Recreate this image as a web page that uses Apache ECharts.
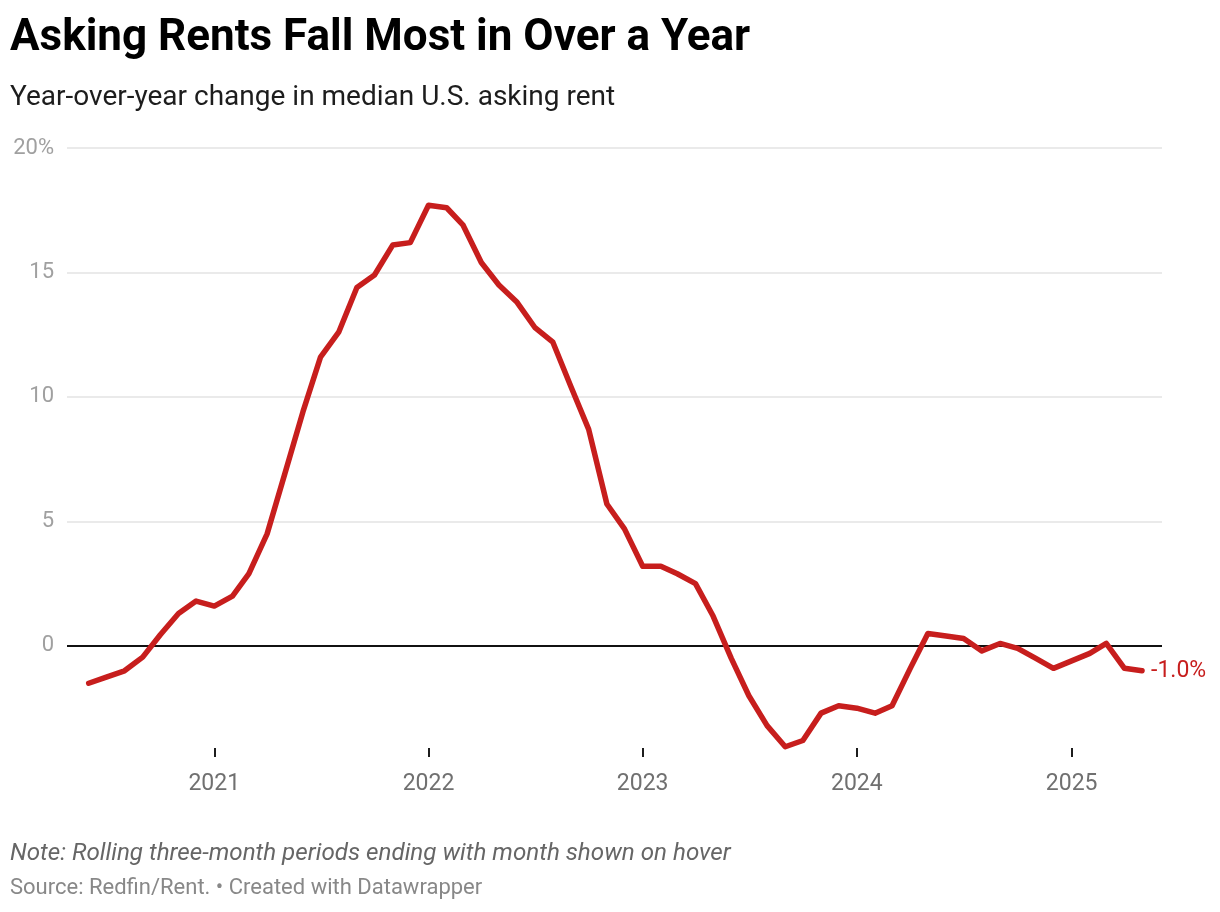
<!DOCTYPE html>
<html>
<head>
<meta charset="utf-8">
<script src="https://cdn.jsdelivr.net/npm/echarts@6/dist/echarts.min.js"></script>
<style>
html,body{margin:0;padding:0;background:#fff;}
#chart{width:1220px;height:912px;}
</style>
</head>
<body>
<div id="chart"></div>
<script>
// Month (first day) of each rolling three-month period
const months = [
  "2020-06","2020-07","2020-08","2020-09","2020-10","2020-11","2020-12",
  "2021-01","2021-02","2021-03","2021-04","2021-05","2021-06","2021-07","2021-08","2021-09","2021-10","2021-11","2021-12",
  "2022-01","2022-02","2022-03","2022-04","2022-05","2022-06","2022-07","2022-08","2022-09","2022-10","2022-11","2022-12",
  "2023-01","2023-02","2023-03","2023-04","2023-05","2023-06","2023-07","2023-08","2023-09","2023-10","2023-11","2023-12",
  "2024-01","2024-02","2024-03","2024-04","2024-05","2024-06","2024-07","2024-08","2024-09","2024-10","2024-11","2024-12",
  "2025-01","2025-02","2025-03","2025-04","2025-05"
];
// Year-over-year change in median U.S. asking rent (%)
const yoyChange = [
  -1.5,-1.25,-1.0,-0.45,0.45,1.3,1.8,
  1.6,2.0,2.9,4.5,6.9,9.4,11.6,12.6,14.4,14.9,16.1,16.2,
  17.7,17.6,16.9,15.4,14.5,13.8,12.8,12.2,10.4,8.7,5.7,4.7,
  3.2,3.2,2.9,2.5,1.2,-0.5,-2.0,-3.2,-4.05,-3.8,-2.7,-2.4,
  -2.5,-2.7,-2.4,-0.9,0.5,0.4,0.3,-0.2,0.1,-0.1,-0.5,-0.9,
  -0.6,-0.3,0.1,-0.9,-1.0
];
const yTicks = [0, 5, 10, 15, 20];
const yearTicks = ["2021-01-01","2022-01-01","2023-01-01","2024-01-01","2025-01-01"];

const title = "Asking Rents Fall Most in Over a Year";
const subtitle = "Year-over-year change in median U.S. asking rent";
const note = "Note: Rolling three-month periods ending with month shown on hover";
const source = "Source: Redfin/Rent. \u2022 Created with Datawrapper";

function ts(s){ const p = s.split("-"); return Date.UTC(+p[0], +p[1]-1, p[2] ? +p[2] : 1); }

const seriesData = months.map((m,i)=>[ts(m), yoyChange[i]]);
const yearTs = yearTicks.map(ts);

const chart = echarts.init(document.getElementById('chart'), null, {renderer:'canvas'});
const FONT = 'Roboto';
chart.setOption({
  animation:false,
  backgroundColor:'#ffffff',
  textStyle:{fontFamily:FONT},
  grid:{left:67, right:58, top:148, bottom:164, containLabel:false},
  xAxis:{
    type:'value',
    min: Date.UTC(2020,3,25),
    max: Date.UTC(2025,5,4),
    axisLine:{show:false, onZero:false},
    axisTick:{show:true, customValues: yearTs, length:9, lineStyle:{color:'#1d1d1d', width:2}},
    axisLabel:{customValues: yearTs, color:'#707070', fontSize:23, fontFamily:FONT, margin:25,
      formatter:function(v){ return String(new Date(v).getUTCFullYear()); }},
    splitLine:{show:false}
  },
  yAxis:{
    type:'value',
    min:-4.1, max:20,
    axisLine:{show:false},
    axisTick:{show:false},
    splitLine:{show:false},
    axisLabel:{customValues: yTicks, color:'#a0a0a0', fontSize:22, fontFamily:FONT, margin:13,
      verticalAlign:'middle',
      formatter:function(v){ return v===20 ? '20%' : String(v); }}
  },
  series:[{
    type:'line',
    data: seriesData,
    showSymbol:false,
    symbol:'none',
    clip:false,
    lineStyle:{color:'#c71e1d', width:5.5, cap:'round', join:'round'},
    z:5,
    endLabel:{show:true, formatter:function(p){ return p.value[1].toFixed(1)+'%'; },
      color:'#c71e1d', fontSize:23, fontFamily:FONT, distance:9},
    markLine:{
      silent:true, symbol:'none', label:{show:false}, animation:false,
      data: yTicks.map(v=>({yAxis:v, lineStyle:{color: v===0 ? '#111' : '#e3e3e3', width: v===0 ? 1.8 : 1.5, type:'solid'}})),
      z:1
    }
  }],
  graphic:[
    {type:'text', left:10, top:17, style:{text:title, fontFamily:FONT, fontWeight:'bold', fontSize:44, fill:'#000'}},
    {type:'text', left:10, top:84, style:{text:subtitle, fontFamily:FONT, fontSize:28, fill:'#1d1d1d'}},
    {type:'text', left:10, top:842, style:{text:note, fontFamily:FONT, fontStyle:'italic', fontSize:24.2, fill:'#666'}},
    {type:'text', left:10, top:877, style:{text:source, fontFamily:FONT, fontSize:22, fill:'#888'}}
  ]
});
</script>
</body>
</html>
